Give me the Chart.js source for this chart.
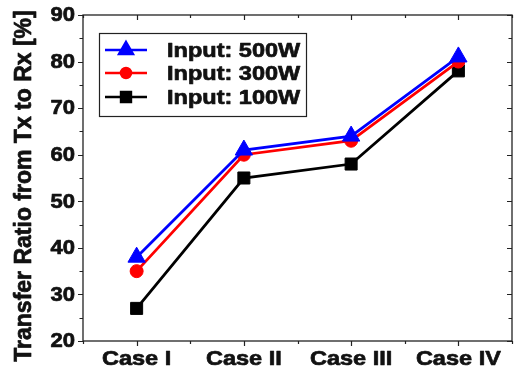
<!DOCTYPE html>
<html>
<head>
<meta charset="utf-8">
<script src="https://cdn.jsdelivr.net/npm/chart.js@4/dist/chart.umd.min.js"></script>
<style>
html,body{margin:0;padding:0;background:#fff;}
#wrap{width:523px;height:376px;}
</style>
</head>
<body>
<div id="wrap"><canvas id="c" width="523" height="376"></canvas></div>
<script>
const categories = ["Case I", "Case II", "Case III", "Case IV"];
const input500 = [38, 61, 64, 81];
const input300 = [35, 60, 63, 80];
const input100 = [27, 55, 58, 78];
const seriesLabels = ["Input: 500W", "Input: 300W", "Input: 100W"];
const yTitle = "Transfer Ratio from Tx to Rx [%]";
const yMin = 20, yMax = 90, yStep = 10;

const FONT = "'Liberation Sans', Arial, sans-serif";

function heavyText(ctx, text, x, y, sx) {
  ctx.save();
  ctx.translate(x, y);
  ctx.scale(sx, 1);
  ctx.lineWidth = 0.7;
  ctx.strokeStyle = ctx.fillStyle;
  ctx.lineJoin = 'round';
  ctx.strokeText(text, 0, 0);
  ctx.fillText(text, 0, 0);
  ctx.restore();
}

const framePlugin = {
  id: 'frame',
  afterDraw(chart) {
    const ctx = chart.ctx;
    const a = chart.chartArea;
    const xs = chart.scales.x, ys = chart.scales.y;
    ctx.save();
    ctx.strokeStyle = '#222';
    ctx.lineWidth = 1.3;
    ctx.strokeRect(a.left, a.top, a.right - a.left, a.bottom - a.top);
    ctx.lineWidth = 1.2;
    ctx.beginPath();
    for (let v = yMin; v <= yMax; v += yStep / 2) {
      const y = Math.round(ys.getPixelForValue(v)) + 0.5;
      const major = ((v - yMin) % yStep) === 0;
      const L = major ? 5 : 3.5;
      ctx.moveTo(a.left - L, y); ctx.lineTo(a.left, y);
      ctx.moveTo(a.right, y); ctx.lineTo(a.right - L, y);
    }
    const n = categories.length;
    for (let i = -0.5; i <= n - 0.5; i += 0.5) {
      const x = Math.round(xs.getPixelForValue(i)) + 0.5;
      const major = Number.isInteger(i);
      const L = major ? 5 : 3;
      ctx.moveTo(x, a.bottom); ctx.lineTo(x, a.bottom + L);
      ctx.moveTo(x, a.top); ctx.lineTo(x, a.top + L);
    }
    ctx.stroke();

    // y tick labels
    ctx.fillStyle = '#111';
    ctx.font = 'bold 21px ' + FONT;
    ctx.textAlign = 'right';
    ctx.textBaseline = 'middle';
    for (let v = yMin; v <= yMax; v += yStep) {
      heavyText(ctx, String(v), 75, ys.getPixelForValue(v) + 0.5, 1.05);
    }
    // x tick labels
    ctx.textAlign = 'center';
    ctx.font = 'bold 21px ' + FONT;
    categories.forEach((c, i) => {
      heavyText(ctx, c, xs.getPixelForValue(i), 359, 1.12);
    });

    // y title
    ctx.font = 'bold 23px ' + FONT;
    ctx.textAlign = 'center';
    ctx.textBaseline = 'middle';
    ctx.save();
    ctx.translate(25, 186);
    ctx.rotate(-Math.PI / 2);
    heavyText(ctx, yTitle, 0, 0, 1);
    ctx.restore();
    ctx.restore();

    // legend
    ctx.save();
    const bx = 99, by = 33, bw = 207, bh = 83;
    ctx.strokeStyle = '#222';
    ctx.lineWidth = 1.2;
    ctx.strokeRect(bx + 0.5, by + 0.5, bw, bh);
    const rowsY = [50, 73, 97];
    chart.data.datasets.forEach((ds, i) => {
      const y = rowsY[i];
      ctx.strokeStyle = ds.borderColor;
      ctx.lineWidth = 2.5;
      ctx.beginPath();
      ctx.moveTo(105, y); ctx.lineTo(147, y);
      ctx.stroke();
      ctx.fillStyle = ds.backgroundColor;
      Chart.helpers.drawPoint(ctx, {
        pointStyle: ds.pointStyle,
        radius: ds.legendRadius,
        borderWidth: 1
      }, 126, y);
      ctx.fillStyle = '#111';
      ctx.font = 'bold 21px ' + FONT;
      ctx.textAlign = 'left';
      ctx.textBaseline = 'middle';
      heavyText(ctx, ds.label, 167, y + 1, 1.12);
    });
    ctx.restore();
  }
};

const mk = (label, data, color, style, r, lr) => ({
  label, data,
  borderColor: color,
  backgroundColor: color,
  pointBackgroundColor: color,
  pointBorderColor: color,
  pointStyle: style,
  pointRadius: r,
  pointHoverRadius: r,
  borderWidth: 2.8,
  pointBorderWidth: 1,
  legendRadius: lr,
  tension: 0,
  clip: false
});

const chart = new Chart(document.getElementById('c'), {
  type: 'line',
  data: {
    labels: categories,
    datasets: [
      mk(seriesLabels[0], input500, '#0000ff', 'triangle', 10, 8),
      mk(seriesLabels[1], input300, '#ff0000', 'circle', 6.5, 5),
      mk(seriesLabels[2], input100, '#000000', 'rect', 8.5, 7)
    ]
  },
  options: {
    responsive: false,
    animation: false,
    layout: { padding: { top: 15, right: 1, left: 0, bottom: 0 } },
    plugins: { legend: { display: false }, tooltip: { enabled: false } },
    scales: {
      x: {
        type: 'category',
        offset: true,
        grid: { display: false, drawTicks: false },
        border: { display: false },
        ticks: { display: false },
        afterFit(s) { s.height = 35; }
      },
      y: {
        min: yMin, max: yMax,
        grid: { display: false, drawTicks: false },
        border: { display: false },
        ticks: { display: false, stepSize: yStep },
        afterFit(s) { s.width = 83; }
      }
    }
  },
  plugins: [framePlugin]
});
</script>
</body>
</html>
